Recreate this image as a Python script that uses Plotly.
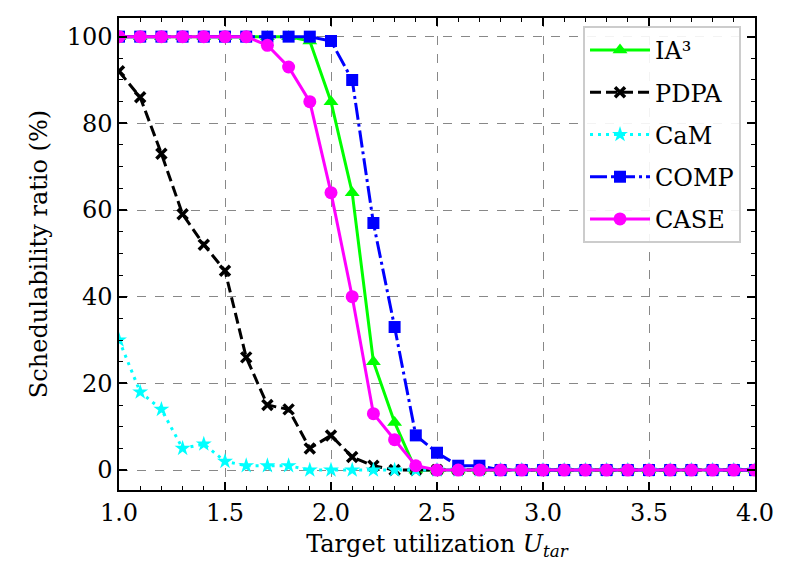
import plotly.graph_objects as go

x = [round(1.0 + 0.1 * i, 1) for i in range(31)]

ia3 = [100, 100, 100, 100, 100, 100, 100, 100, 100, 99, 85, 64, 25, 11, 0, 0] + [0] * 15
pdpa = [92, 86, 73, 59, 52, 46, 26, 15, 14, 5, 8, 3, 1, 0, 0, 0] + [0] * 15
cam = [30, 18, 14, 5, 6, 2, 1, 1, 1, 0, 0, 0, 0, 0, 0, 0] + [0] * 15
comp = [100, 100, 100, 100, 100, 100, 100, 100, 100, 100, 99, 90, 57, 33, 8, 4, 1, 1] + [0] * 13
case = [100, 100, 100, 100, 100, 100, 100, 98, 93, 85, 64, 40, 13, 7, 1, 0] + [0] * 15

names = ["IA³", "PDPA", "CaM", "COMP", "CASE"]
series = [ia3, pdpa, cam, comp, case]
colors = ["#00ff00", "#000000", "#00ffff", "#0000ff", "#ff00ff"]
dashes = ["solid", "11px,5px", "3px,5px", "17px,4px,3px,4px", "solid"]
symbols = ["triangle-up", "x-thin", "star", "square", "circle"]
sizes = [13, 10, 12, 12, 13]

fig = go.Figure()
for i, (n, y, c, d, s, sz) in enumerate(zip(names, series, colors, dashes, symbols, sizes)):
    marker = dict(symbol=s, size=sz, color=c)
    if s == "x-thin":
        marker["line"] = dict(color=c, width=3.5)
    fig.add_trace(go.Scatter(x=x, y=y, name=n, mode="lines+markers", legendgroup=f"g{i}",
                             line=dict(color=c, dash=d, width=3),
                             marker=marker))

F = "DejaVu Serif"
fig.update_xaxes(range=[1.0, 4.0], dtick=0.5, tickformat=".1f",
                 showline=True, linecolor="black", linewidth=1.5, mirror="ticks",
                 ticks="inside", ticklen=8, tickwidth=1.5, tickcolor="black",
                 showgrid=True, gridcolor="#888888", griddash="dash", gridwidth=1, zeroline=False,
                 tickfont=dict(family=F, size=24, color="black"),
                 minor=dict(dtick=0.1, ticks="inside", ticklen=4, tickcolor="black", tickwidth=1, showgrid=False),
                 title=dict(text="Target utilization <i>U</i><sub><i>tar</i></sub>",
                            font=dict(family=F, size=24, color="black"), standoff=10))
fig.update_yaxes(range=[-4.6, 104.3], dtick=20, tick0=0,
                 showline=True, linecolor="black", linewidth=1.5, mirror="ticks",
                 ticks="inside", ticklen=8, tickwidth=1.5, tickcolor="black",
                 showgrid=True, gridcolor="#888888", griddash="dash", gridwidth=1, zeroline=False,
                 tickfont=dict(family=F, size=24, color="black"),
                 minor=dict(dtick=5, ticks="inside", ticklen=4, tickcolor="black", tickwidth=1, showgrid=False),
                 title=dict(text="Schedulability ratio (%)",
                            font=dict(family=F, size=24, color="black"), standoff=12))

fig.update_layout(
    width=790, height=588,
    margin=dict(l=111, r=43, t=8, b=106),
    font=dict(family=F, size=24, color="black"),
    plot_bgcolor="white", paper_bgcolor="white",
    legend=dict(x=0.978, y=0.983, xanchor="right", yanchor="top",
                bgcolor="rgba(255,255,255,0.9)", bordercolor="#cccccc", borderwidth=2,
                font=dict(family=F, size=24, color="black"),
                itemwidth=60, tracegroupgap=8),
)

fig.write_html("out.html")
